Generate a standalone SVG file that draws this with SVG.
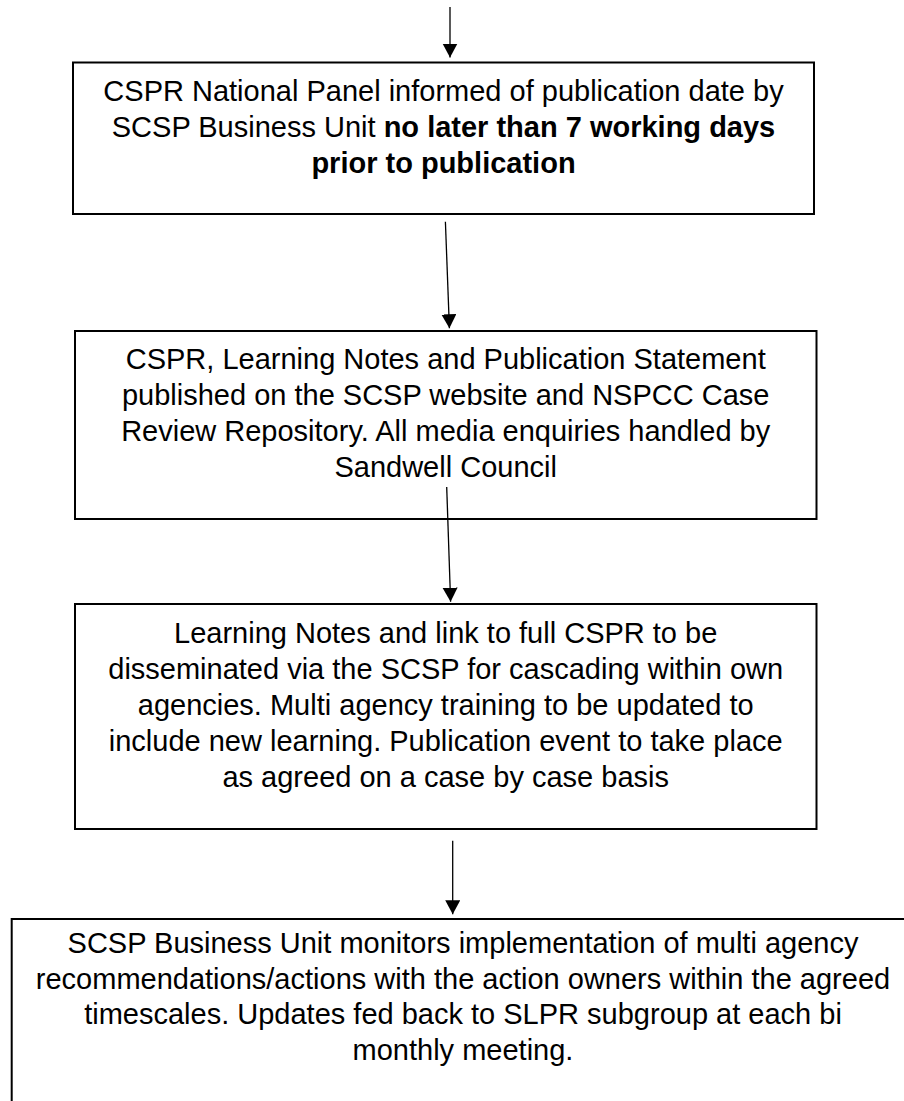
<svg xmlns="http://www.w3.org/2000/svg" width="904" height="1101" viewBox="0 0 904 1101">
<style>
.box{fill:#ffffff;stroke:#000000;stroke-width:2}
.lbl{font-family:"Liberation Sans",Arial,sans-serif;font-size:29px;fill:#000000;text-anchor:middle}
.b{font-weight:bold}
.conn{stroke:#000000;stroke-width:1.3;fill:none;marker-end:url(#ah)}
</style>
<defs>
<marker id="ah" markerUnits="userSpaceOnUse" markerWidth="15" markerHeight="16" refX="14" refY="7.5" orient="auto">
<path d="M0,0 L14,7.5 L0,15 Z" fill="#000000"/>
</marker>
</defs>
<rect width="904" height="1101" fill="#ffffff"/>
<g id="node1">
<rect class="box" x="73" y="62.5" width="741" height="151.5"/>
<text class="lbl" x="443.5" y="101">CSPR National Panel informed of publication date by</text>
<text class="lbl" x="443.5" y="137">SCSP Business Unit <tspan class="b">no later than 7 working days</tspan></text>
<text class="lbl b" x="443.5" y="173">prior to publication</text>
</g>
<g id="node2">
<rect class="box" x="75" y="331" width="741.5" height="188"/>
<text class="lbl" x="445.7" y="369">CSPR, Learning Notes and Publication Statement</text>
<text class="lbl" x="445.7" y="405">published on the SCSP website and NSPCC Case</text>
<text class="lbl" x="445.7" y="441">Review Repository. All media enquiries handled by</text>
<text class="lbl" x="445.7" y="477">Sandwell Council</text>
</g>
<g id="node3">
<rect class="box" x="75" y="604" width="741.5" height="225"/>
<text class="lbl" x="445.7" y="642.5">Learning Notes and link to full CSPR to be</text>
<text class="lbl" x="445.7" y="678.5">disseminated via the SCSP for cascading within own</text>
<text class="lbl" x="445.7" y="714.5">agencies. Multi agency training to be updated to</text>
<text class="lbl" x="445.7" y="750.5">include new learning. Publication event to take place</text>
<text class="lbl" x="445.7" y="786.5">as agreed on a case by case basis</text>
</g>
<g id="node4">
<rect class="box" x="11.7" y="919" width="903" height="200"/>
<text class="lbl" x="463" y="953">SCSP Business Unit monitors implementation of multi agency</text>
<text class="lbl" x="463" y="989">recommendations/actions with the action owners within the agreed</text>
<text class="lbl" x="463" y="1024">timescales. Updates fed back to SLPR subgroup at each bi</text>
<text class="lbl" x="463" y="1060">monthly meeting.</text>
</g>
<g id="connectors">
<line class="conn" x1="450" y1="7" x2="450" y2="57.5"/>
<line class="conn" x1="445.4" y1="221.7" x2="449.4" y2="328.3"/>
<line class="conn" x1="446.7" y1="487" x2="450.6" y2="601.7"/>
<line class="conn" x1="452.7" y1="840.7" x2="452.7" y2="914.3"/>
</g>
</svg>
